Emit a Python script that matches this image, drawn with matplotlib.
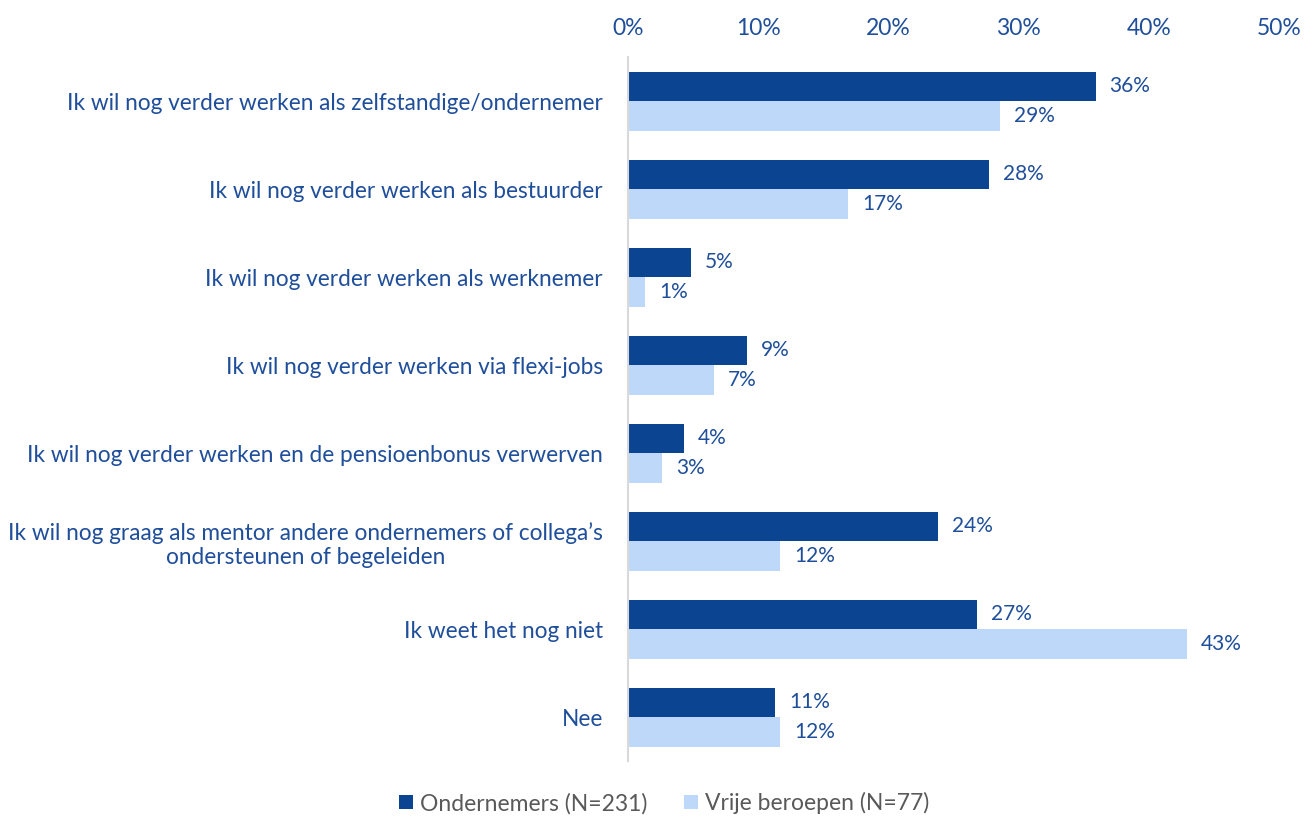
import matplotlib.pyplot as plt
import numpy as np

# Data
categorieen = [
    'Ik wil nog verder werken als zelfstandige/ondernemer',
    'Ik wil nog verder werken als bestuurder',
    'Ik wil nog verder werken als werknemer',
    'Ik wil nog verder werken via flexi-jobs',
    'Ik wil nog verder werken en de pensioenbonus verwerven',
    "Ik wil nog graag als mentor andere ondernemers of collega’s\nondersteunen of begeleiden",
    'Ik weet het nog niet',
    'Nee',
]
ondernemers = [35.9, 27.7, 4.8, 9.1, 4.3, 23.8, 26.8, 11.3]
vrije_beroepen = [28.6, 16.9, 1.3, 6.6, 2.6, 11.7, 42.9, 11.7]
reeksen = ['Ondernemers (N=231)', 'Vrije beroepen (N=77)']
xticks = [0, 10, 20, 30, 40, 50]

kleur_donker = '#0B4491'
kleur_licht = '#BDD8F8'
kleur_tekst = '#1F4E9A'

plt.rcParams['font.family'] = ['Lato', 'DejaVu Sans']

fig = plt.figure(figsize=(13.15, 8.17), dpi=100)
ax = fig.add_axes([0.4776, 0.0685, 0.4951, 0.8615])

y = np.arange(len(categorieen))
h = 0.335

b1 = ax.barh(y - h / 2, ondernemers, height=h, color=kleur_donker, label=reeksen[0])
b2 = ax.barh(y + h / 2, vrije_beroepen, height=h, color=kleur_licht, label=reeksen[1])

# waarden naast de balken
for barren, waarden in [(b1, ondernemers), (b2, vrije_beroepen)]:
    for barra, v in zip(barren, waarden):
        ax.annotate(f"{v:.0f}%", (v, barra.get_y() + barra.get_height() / 2),
                    xytext=(10, 0), textcoords='offset points',
                    ha='left', va='center', fontsize=15, color=kleur_tekst)

ax.set_xlim(0, 50)
ax.set_ylim(len(categorieen) - 0.5, -0.5)
ax.set_xticks(xticks)
ax.set_xticklabels([f"{t}%" for t in xticks], fontsize=16.5, color=kleur_tekst)
ax.xaxis.tick_top()
ax.tick_params(axis='x', length=0, pad=13)

ax.set_yticks(y)
ax.set_yticklabels(categorieen, fontsize=16.3, color=kleur_tekst, multialignment='center')
ax.tick_params(axis='y', length=0, pad=18)

for s in ['top', 'right', 'bottom']:
    ax.spines[s].set_visible(False)
ax.spines['left'].set_color('#D9D9D9')
ax.spines['left'].set_linewidth(1.5)

leg = fig.legend(loc='center', bbox_to_anchor=(0.505, 0.017), ncol=2, frameon=False,
                 fontsize=16.5, handlelength=0.6, handleheight=0.6, handletextpad=0.3,
                 columnspacing=1.6)
for t in leg.get_texts():
    t.set_color('#595959')

fig.savefig('out.png', dpi=100)
plt.close()
